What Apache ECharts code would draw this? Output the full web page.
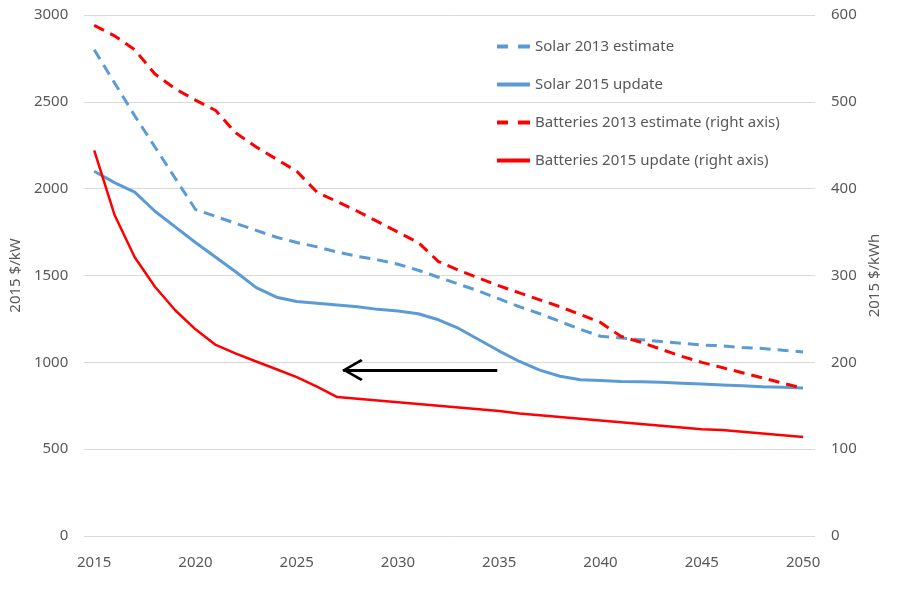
<!DOCTYPE html>
<html>
<head>
<meta charset="utf-8">
<script src="https://cdn.jsdelivr.net/npm/echarts@6/dist/echarts.min.js"></script>
<style>html,body{margin:0;padding:0;background:#fff}#c{width:902px;height:589px}</style>
</head>
<body>
<div id="c"></div>
<script>
var years = [];
for (var y = 2015; y <= 2050; y++) years.push(y);
var xTickLabels = [2015, 2020, 2025, 2030, 2035, 2040, 2045, 2050];
var leftTicks = [0, 500, 1000, 1500, 2000, 2500, 3000];
var rightTicks = [0, 100, 200, 300, 400, 500, 600];
var seriesNames = ['Solar 2013 estimate', 'Solar 2015 update', 'Batteries 2013 estimate (right axis)', 'Batteries 2015 update (right axis)'];

var solar2013 = [2800, 2610, 2420, 2240, 2060, 1880, 1840, 1800, 1760, 1720,
  1690, 1665, 1635, 1610, 1590, 1565, 1530, 1490, 1450, 1410,
  1365, 1320, 1280, 1235, 1190, 1150, 1140, 1130, 1120, 1110,
  1100, 1095, 1085, 1080, 1070, 1060];
var solar2015 = [2100, 2035, 1980, 1870, 1780, 1690, 1605, 1520, 1430, 1375,
  1350, 1340, 1330, 1320, 1305, 1295, 1280, 1245, 1195, 1130,
  1065, 1005, 955, 920, 900, 895, 890, 888, 885, 880,
  875, 870, 865, 860, 857, 852];
var batt2013 = [588, 576, 560, 532, 515, 502, 490, 464, 448, 434,
  420, 396, 385, 374, 362, 350, 338, 316, 306, 297,
  288, 280, 272, 264, 255, 246, 230, 223, 215, 207,
  200, 194, 188, 182, 176, 170];
var batt2015 = [444, 370, 321, 287, 260, 238, 220, 210, 201, 192,
  183, 172, 160, 158, 156, 154, 152, 150, 148, 146,
  144, 141, 139, 137, 135, 133, 131, 129, 127, 125,
  123, 122, 120, 118, 116, 114];
var arrowFrom = [2034.9, 956];
var arrowTo = [2027.3, 956];

function pairs(vals) { return years.map(function (yr, i) { return [yr, vals[i]]; }); }

var txt = '#595959';
var font = 'Noto Sans';
var dashIcon = 'path://M0,0 L11,0 L11,4 L0,4 Z M21,0 L33,0 L33,4 L21,4 Z';
var solidIcon = 'path://M0,0 L33,0 L33,4 L0,4 Z';
var plain = function (v) { return String(v); };

var chart = echarts.init(document.getElementById('c'), null, { renderer: 'canvas' });
chart.setOption({
  animation: false,
  backgroundColor: '#ffffff',
  grid: { left: 83, right: 87, top: 15, bottom: 53, containLabel: false },
  legend: {
    orient: 'vertical', left: 492, top: 34,
    itemWidth: 33, itemHeight: 16, itemGap: 23,
    textStyle: { color: txt, fontSize: 15, fontFamily: font },
    data: [
      { name: seriesNames[0], icon: dashIcon },
      { name: seriesNames[1], icon: solidIcon },
      { name: seriesNames[2], icon: dashIcon },
      { name: seriesNames[3], icon: solidIcon }
    ]
  },
  xAxis: {
    type: 'value', min: 2014.507, max: 2050.59,
    axisLine: { show: false }, axisTick: { show: false }, splitLine: { show: false },
    axisLabel: { customValues: xTickLabels, color: txt, fontSize: 15, fontFamily: font, margin: 19,
      formatter: function (v) { return String(Math.round(v)); } }
  },
  yAxis: [{
    type: 'value', min: leftTicks[0], max: leftTicks[leftTicks.length - 1], interval: 500,
    name: '2015 $/kW', nameLocation: 'middle', nameRotate: 90, nameGap: 51,
    nameTextStyle: { color: txt, fontSize: 15, fontFamily: font },
    axisLine: { show: false }, axisTick: { show: false },
    axisLabel: { color: txt, fontSize: 15, fontFamily: font, margin: 16, formatter: plain },
    splitLine: { lineStyle: { color: '#d9d9d9', width: 1 } }
  }, {
    type: 'value', min: rightTicks[0], max: rightTicks[rightTicks.length - 1], interval: 100,
    name: '2015 $/kWh', nameLocation: 'middle', nameRotate: 90, nameGap: 42,
    nameTextStyle: { color: txt, fontSize: 15, fontFamily: font },
    axisLine: { show: false }, axisTick: { show: false },
    axisLabel: { color: txt, fontSize: 15, fontFamily: font, margin: 16, formatter: plain },
    splitLine: { show: false }
  }],
  series: [{
    name: seriesNames[0], type: 'line', yAxisIndex: 0, data: pairs(solar2013),
    showSymbol: false, symbol: 'none',
    lineStyle: { color: '#5b9bd5', width: 3, type: [11, 7] }, itemStyle: { color: '#5b9bd5' }
  }, {
    name: seriesNames[1], type: 'line', yAxisIndex: 0, data: pairs(solar2015),
    showSymbol: false, symbol: 'none',
    lineStyle: { color: '#5b9bd5', width: 3 }, itemStyle: { color: '#5b9bd5' },
    markLine: {
      silent: true, animation: false,
      symbol: ['none', 'path://M11,0 L11.05,0.05 L11,0.1 Z M11,18 L22,37 L20,39 L11,23 L2,39 L0,37 Z'],
      symbolSize: [22, 39],
      label: { show: false },
      lineStyle: { color: '#000', width: 3, type: 'solid' },
      data: [[{ coord: arrowFrom }, { coord: arrowTo }]]
    }
  }, {
    name: seriesNames[2], type: 'line', yAxisIndex: 1, data: pairs(batt2013),
    showSymbol: false, symbol: 'none',
    lineStyle: { color: '#ff0000', width: 3, type: [11, 7] }, itemStyle: { color: '#ff0000' }
  }, {
    name: seriesNames[3], type: 'line', yAxisIndex: 1, data: pairs(batt2015),
    showSymbol: false, symbol: 'none',
    lineStyle: { color: '#ff0000', width: 2.5 }, itemStyle: { color: '#ff0000' }
  }]
});
</script>
</body>
</html>
